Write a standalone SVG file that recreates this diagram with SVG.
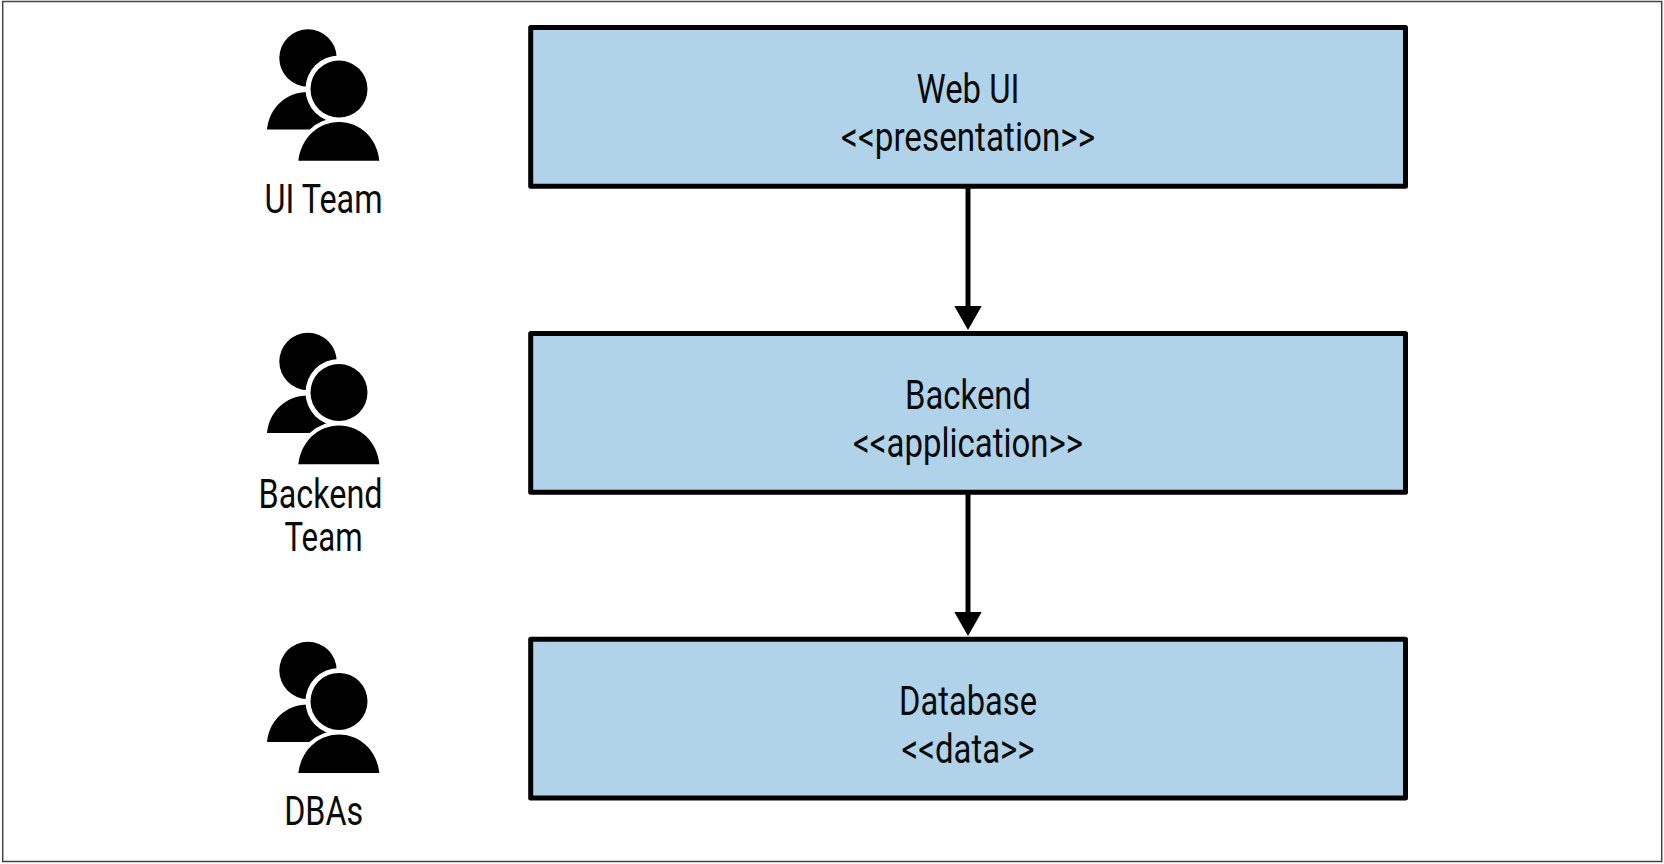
<svg xmlns="http://www.w3.org/2000/svg" xmlns:xlink="http://www.w3.org/1999/xlink" width="1664" height="864" viewBox="0 0 1664 864">
<style>
.box{fill:#b0d3ea;stroke:#000;stroke-width:5;stroke-linejoin:round}
.t{font-family:Roboto,"Noto Sans","Liberation Sans",sans-serif;font-size:40px;fill:#0a0a0a;text-anchor:middle}
.link{stroke:#000;stroke-width:5;fill:none;marker-end:url(#arrow)}
</style>
<defs>
<marker id="arrow" markerUnits="userSpaceOnUse" markerWidth="24" markerHeight="27.400" refX="1" refY="13.700" viewBox="0 0 24 27.400" orient="auto"><path d="M0 0L24 13.700L0 27.400Z" fill="#000"/></marker>
<g id="people">
<circle cx="308" cy="58" r="28.700"/>
<path d="M267 129.500C269 108 286 92 308 92C330 92 347 108 349 129.500Z"/>
<circle cx="339" cy="89" r="33.500" fill="#fff"/>
<path d="M298.300 160.700C301 138 318 122 339 122C360 122 377 138 379.300 160.700Z" stroke="#fff" stroke-width="8" paint-order="stroke"/>
<circle cx="339" cy="89" r="28.500"/>
</g>
</defs>
<rect x="2.700" y="1.500" width="1659" height="860" fill="#fff" stroke="#444" stroke-width="1.500"/>
<g id="connectors">
<line class="link" x1="968" y1="186" x2="968" y2="307"/>
<line class="link" x1="968" y1="492" x2="968" y2="613"/>
</g>
<g id="web-ui"><rect class="box" x="530.700" y="27.500" width="874.800" height="158.700"/>
<text class="t" x="968" y="102.500" textLength="103" lengthAdjust="spacingAndGlyphs">Web UI</text>
<text class="t" x="968" y="151" textLength="254" lengthAdjust="spacingAndGlyphs">&lt;&lt;presentation&gt;&gt;</text></g>
<g id="backend"><rect class="box" x="530.700" y="333.500" width="874.800" height="158.700"/>
<text class="t" x="968" y="408.500" textLength="126" lengthAdjust="spacingAndGlyphs">Backend</text>
<text class="t" x="968" y="457" textLength="230" lengthAdjust="spacingAndGlyphs">&lt;&lt;application&gt;&gt;</text></g>
<g id="database"><rect class="box" x="530.700" y="639.300" width="874.800" height="158.700"/>
<text class="t" x="968" y="714.800" textLength="138" lengthAdjust="spacingAndGlyphs">Database</text>
<text class="t" x="968" y="763.300" textLength="133" lengthAdjust="spacingAndGlyphs">&lt;&lt;data&gt;&gt;</text></g>
<g id="ui-team"><use href="#people"/>
<text class="t" x="323.500" y="213" textLength="118" lengthAdjust="spacingAndGlyphs">UI Team</text></g>
<g id="backend-team"><use href="#people" y="303.500"/>
<text class="t" x="320.500" y="507.500" textLength="124" lengthAdjust="spacingAndGlyphs">Backend</text>
<text class="t" x="323.500" y="551" textLength="78" lengthAdjust="spacingAndGlyphs">Team</text></g>
<g id="dbas"><use href="#people" y="612.400"/>
<text class="t" x="323.700" y="825" textLength="79" lengthAdjust="spacingAndGlyphs">DBAs</text></g>
</svg>
